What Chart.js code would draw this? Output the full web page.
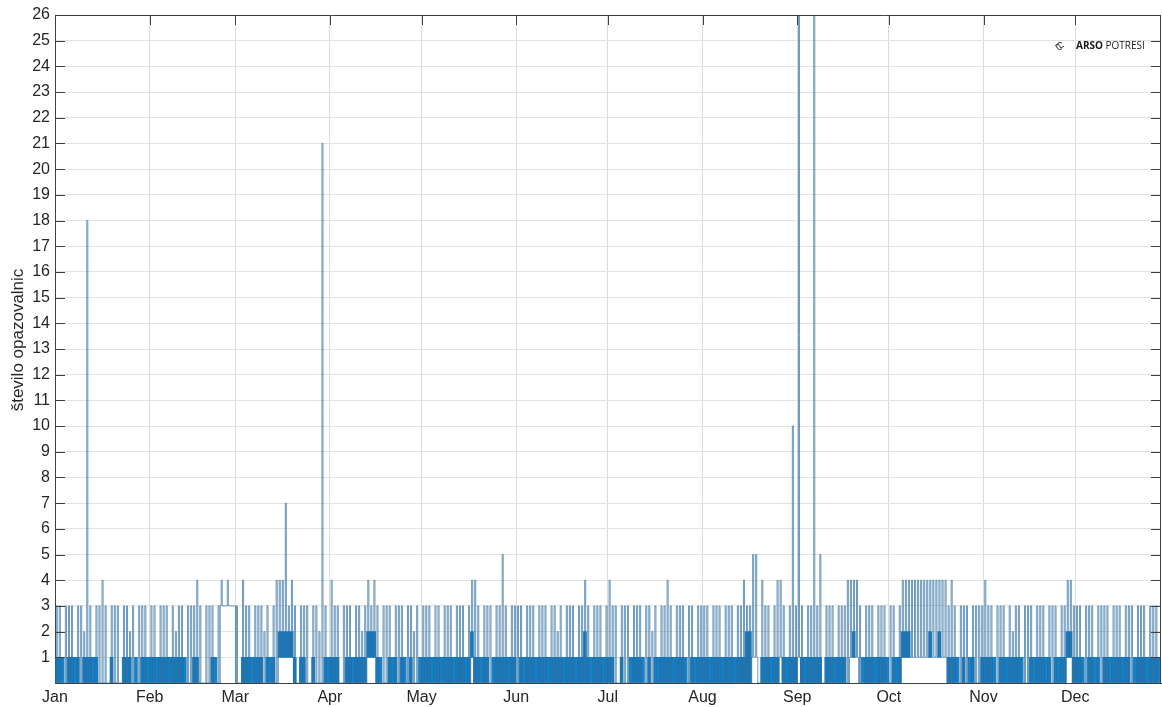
<!DOCTYPE html>
<html lang="sl">
<head>
    <meta charset="UTF-8">
    <title>Število opazovalnic</title>
    <script src="https://cdn.jsdelivr.net/npm/chart.js@4"></script>
    <style>
        html, body { margin: 0; padding: 0; background: #fff; }
        .chart-container { position: relative; width: 1162px; height: 707px; }
    </style>
</head>
<body>
    <div class="chart-container">
        <canvas id="stationsChart"></canvas>
    </div>
    <script>
        // time axis: day of year where each month starts
        const monthNames = ['Jan', 'Feb', 'Mar', 'Apr', 'May', 'Jun', 'Jul', 'Aug', 'Sep', 'Oct', 'Nov', 'Dec'];
        const monthStarts = [0, 31, 59, 90, 120, 151, 181, 212, 243, 273, 304, 334];

        // daily highest number of stations, one string per month (spaces only for reading)
        const dailyPeaks = [
            '3303330332 3303343033 3033230333 0',
            '3303330323 3033343033 30340400',
            '3043303332 3034447343 0333033233 0',
            '4330333033 2343430333 0333033230',
            '3330330333 0333034430 3330335303 3',
            '3303330333 0332303330 3343033303',
            '4330333033 3033230334 3033303303 3',
            '3303330333 0334335504 3303443033 3',
            '3303333503 3303334444 3033303330',
            '3303444444 4444444443 4303330333 3',
            '4330333032 3303330333 0333033443',
            '3303330333 3033303330 3330333033 3'
        ];
        // peaks above 9 stations
        const tallDays = [10, 87, 241, 243, 248];
        const tallValues = [18, 21, 10, 27, 27];

        // daily floor: 0 stays at 0, 1 switching 0-1, f switching 0-2,
        // b stays >= 1 switching 1-2, c stays at 1, d stays at 3
        const dailyFloors = [
            '1110111101 1111000010 0011101011 1',
            '1111111111 1100110000 110ddddd',
            '0011111110 1110bbbbb1 0110010001 1',
            '1110011111 11bbb11001 1101101001',
            '1111111111 111111b111 1101111111 1',
            '0111111111 1111111111 11f1111111',
            '1100100111 1101011111 1111110111 1',
            '1111111111 1111ffcc01 11111c1111 1',
            'c111111101 1111110cbc 0111111111',
            '0111bbbccc cccbccbcc1 1110101100 1',
            '1111011111 1110011111 11011 11bb1',
            '1110111101 1111111101 1111111111 1'
        ];

        const floorLow = { '0': 0, '1': 0, 'f': 0, 'b': 1, 'c': 1, 'd': 3 };
        const floorBand = { '1': [0, 1], 'f': [0, 2], 'b': [1, 2] };

        const peaks = dailyPeaks.join('').replace(/\s/g, '').split('').map(Number);
        tallDays.forEach((d, i) => { peaks[d] = tallValues[i]; });
        const floors = dailyFloors.join('').replace(/\s/g, '').split('');

        // stairs trace: sits on the floor, jumps to the day's peak and back
        const tracePoints = [];
        const bandBars = [];
        floors.forEach((f, d) => {
            const low = floorLow[f];
            tracePoints.push({ x: d + 0.1, y: low });
            if (peaks[d] > low) {
                tracePoints.push({ x: d + 0.4, y: peaks[d] });
                tracePoints.push({ x: d + 0.75, y: low });
            }
            if (floorBand[f]) {
                bandBars.push({ x: d + 0.5, y: floorBand[f] });
            }
        });

        const fontFamily = "'Liberation Sans', Arial, sans-serif";
        const axisColor = '#404040';

        // MATLAB style box: inward ticks, top/right lines, y label and logo
        const boxPlugin = {
            id: 'boxPlugin',
            afterDraw(chart) {
                const { ctx, chartArea: a, scales: { x, y } } = chart;
                ctx.save();
                ctx.strokeStyle = axisColor;
                ctx.lineWidth = 1;
                ctx.beginPath();
                ctx.moveTo(a.left, a.top + 0.5);
                ctx.lineTo(a.right, a.top + 0.5);
                ctx.moveTo(a.right - 0.5, a.top);
                ctx.lineTo(a.right - 0.5, a.bottom);
                y.ticks.forEach(t => {
                    const py = Math.round(y.getPixelForValue(t.value)) + 0.5;
                    ctx.moveTo(a.left, py);
                    ctx.lineTo(a.left + 10, py);
                    ctx.moveTo(a.right, py);
                    ctx.lineTo(a.right - 10, py);
                });
                monthStarts.forEach(m => {
                    const px = Math.round(x.getPixelForValue(m)) + 0.5;
                    ctx.moveTo(px, a.top);
                    ctx.lineTo(px, a.top + 10);
                });
                ctx.stroke();

                ctx.fillStyle = '#262626';
                ctx.font = '17px ' + fontFamily;
                ctx.textAlign = 'center';
                ctx.textBaseline = 'middle';
                ctx.translate(18, 340);
                ctx.rotate(-Math.PI / 2);
                ctx.fillText('število opazovalnic', 0, 0);
                ctx.restore();

                // logo in the top right corner
                ctx.save();
                const lx = a.right - 85;
                const ly = 46;
                ctx.strokeStyle = '#333';
                ctx.lineWidth = 1;
                ctx.beginPath();
                ctx.arc(lx - 16, ly, 3.5, 0.3 * Math.PI, 1.7 * Math.PI);
                ctx.stroke();
                ctx.beginPath();
                ctx.moveTo(lx - 21, ly);
                ctx.lineTo(lx - 18, ly - 2);
                ctx.lineTo(lx - 15, ly + 2);
                ctx.lineTo(lx - 12, ly);
                ctx.stroke();
                ctx.fillStyle = '#1a1a1a';
                ctx.textBaseline = 'middle';
                ctx.font = "bold 10px 'Open Sans', sans-serif";
                ctx.fillText('ARSO', lx, ly);
                const w = ctx.measureText('ARSO ').width;
                ctx.font = "10px 'Open Sans', sans-serif";
                ctx.fillText('POTRESI', lx + w, ly);
                ctx.restore();
            }
        };

        new Chart(document.getElementById('stationsChart'), {
            type: 'bar',
            data: {
                datasets: [{
                    type: 'line',
                    label: 'število opazovalnic',
                    data: tracePoints,
                    borderColor: 'rgba(45, 110, 160, 0.7)',
                    borderWidth: 1,
                    pointRadius: 0,
                    stepped: true,
                    fill: false,
                    order: 0
                }, {
                    type: 'bar',
                    label: 'band',
                    data: bandBars,
                    backgroundColor: 'rgba(0, 114, 189, 0.9)',
                    borderWidth: 0,
                    barPercentage: 1,
                    categoryPercentage: 1,
                    order: 1
                }]
            },
            options: {
                responsive: true,
                maintainAspectRatio: false,
                animation: false,
                layout: { padding: { top: 15, right: 1, left: 0, bottom: 0 } },
                plugins: {
                    legend: { display: false },
                    tooltip: { enabled: false }
                },
                scales: {
                    x: {
                        type: 'linear',
                        min: 0,
                        max: 362.1,
                        offset: false,
                        afterBuildTicks: scale => {
                            scale.ticks = monthStarts.map(v => ({ value: v }));
                        },
                        afterFit: scale => { scale.height = 24; },
                        ticks: {
                            autoSkip: false,
                            maxRotation: 0,
                            padding: 5,
                            color: '#262626',
                            font: { family: fontFamily, size: 16 },
                            callback: v => monthNames[monthStarts.indexOf(v)]
                        },
                        grid: { color: '#dcdcdc', drawTicks: false, offset: false },
                        border: { color: axisColor }
                    },
                    y: {
                        min: 0,
                        max: 26,
                        afterFit: scale => { scale.width = 55; },
                        ticks: {
                            stepSize: 1,
                            padding: 5,
                            color: '#262626',
                            font: { family: fontFamily, size: 16 },
                            callback: v => (v === 0 ? '' : v)
                        },
                        grid: { color: '#e2e2e2', drawTicks: false },
                        border: { color: axisColor }
                    }
                }
            },
            plugins: [boxPlugin]
        });
    </script>
</body>
</html>
